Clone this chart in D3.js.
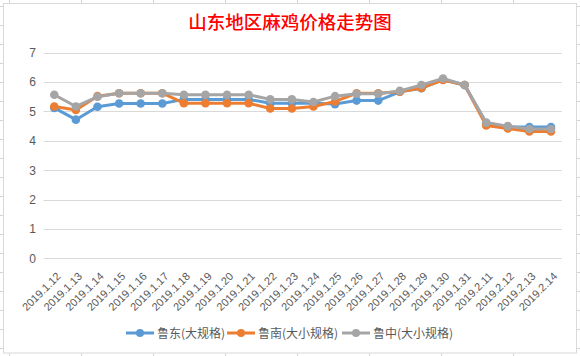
<!DOCTYPE html>
<html><head><meta charset="utf-8">
<script src="https://cdn.jsdelivr.net/npm/d3@7"></script>
<style>
html,body{margin:0;padding:0;background:#fff;}
svg{display:block;}
</style>
</head><body>
<svg id="chart" width="580" height="356"></svg>
<script>
const title = "山东地区麻鸡价格走势图";
const categories = ["2019.1.12","2019.1.13","2019.1.14","2019.1.15","2019.1.16","2019.1.17","2019.1.18","2019.1.19","2019.1.20","2019.1.21","2019.1.22","2019.1.23","2019.1.24","2019.1.25","2019.1.26","2019.1.27","2019.1.28","2019.1.29","2019.1.30","2019.1.31","2019.2.11","2019.2.12","2019.2.13","2019.2.14"];
const seriesNames = ["鲁东(大规格)","鲁南(大小规格)","鲁中(大小规格)"];
const ludong = [5.12,4.72,5.16,5.27,5.27,5.27,5.41,5.41,5.41,5.41,5.28,5.28,5.28,5.25,5.37,5.37,5.67,5.79,6.08,5.9,4.6,4.48,4.47,4.47];
const lunan  = [5.17,5.05,5.52,5.62,5.62,5.62,5.28,5.28,5.28,5.28,5.1,5.1,5.17,5.34,5.62,5.62,5.67,5.8,6.07,5.9,4.52,4.42,4.32,4.32];
const luzhong= [5.57,5.17,5.5,5.62,5.62,5.62,5.57,5.57,5.57,5.57,5.41,5.41,5.32,5.52,5.6,5.6,5.7,5.9,6.12,5.9,4.62,4.5,4.4,4.4];
const yTicks = [0,1,2,3,4,5,6,7];
const colors = ["#5B9BD5","#ED7D31","#A5A5A5"];
const seriesValues = [ludong, lunan, luzhong];

const svg = d3.select("#chart");
const W = 580, H = 356;

// spreadsheet background grid (decoration)
const bg = svg.append("g");
for (let x = 9.5; x < W; x += 72) bg.append("line").attr("x1",x).attr("x2",x).attr("y1",0).attr("y2",H).attr("stroke","#d4d4d4");
for (let y = 6.5; y < H; y += 19) bg.append("line").attr("x1",0).attr("x2",W).attr("y1",y).attr("y2",y).attr("stroke","#d4d4d4");
// chart frame
svg.append("rect").attr("x",3.5).attr("y",3.5).attr("width",573).attr("height",349.5)
  .attr("fill","#fff").attr("stroke","#d9d9d9");

const x = d3.scaleBand().domain(categories).range([43.5, 561.8]).padding(0);
const y = d3.scaleLinear().domain([0,7]).range([258.3, 52.7]);
const cx = d => x(d) + x.bandwidth()/2;

// gridlines
svg.append("g").selectAll("line").data(yTicks).join("line")
  .attr("x1",43.5).attr("x2",561.8)
  .attr("y1",d=>Math.round(y(d))+0.5).attr("y2",d=>Math.round(y(d))+0.5)
  .attr("stroke","#d9d9d9").attr("stroke-width",1);

// y axis labels
const yAxis = d3.axisLeft(y).tickValues(yTicks).tickFormat(d3.format("d")).tickSize(0).tickPadding(0);
const gy = svg.append("g").attr("transform","translate(36,0)").call(yAxis);
gy.select(".domain").remove();
gy.selectAll("text").attr("fill","#595959").style("font-family","'Liberation Sans',Arial,sans-serif").style("font-size","12px");

// x axis labels
const xAxis = d3.axisBottom(x).tickSize(0).tickPadding(0);
const gx = svg.append("g").call(xAxis);
gx.select(".domain").remove();
gx.selectAll(".tick").attr("transform", d => `translate(${cx(d)+7},277)`);
gx.selectAll("text").attr("fill","#595959").attr("x",0).attr("y",0).attr("dy","0")
  .attr("text-anchor","end").attr("transform","rotate(-45)")
  .style("font-family","'Liberation Sans',Arial,sans-serif").style("font-size","11px");

// lines
const line = d3.line().x((d,i)=>cx(categories[i])).y(d=>y(d));
seriesValues.forEach((vals, si) => {
  const g = svg.append("g");
  g.append("path").datum(vals).attr("d", line).attr("fill","none")
    .attr("stroke", colors[si]).attr("stroke-width",3).attr("stroke-linejoin","round").attr("stroke-linecap","round");
  g.selectAll("circle").data(vals).join("circle")
    .attr("cx",(d,i)=>cx(categories[i])).attr("cy",d=>y(d)).attr("r",4.3).attr("fill",colors[si]);
});

// title
svg.append("text").attr("x",290).attr("y",29).attr("text-anchor","middle")
  .attr("fill","#FF0000").style("font-family","'Noto Sans CJK SC',sans-serif")
  .style("font-size","18.5px").style("font-weight","500").text(title);

// legend
const legendX = [126, 227, 342];
const lg = svg.append("g");
seriesNames.forEach((n,i)=>{
  const g = lg.append("g").attr("transform",`translate(${legendX[i]},333)`);
  g.append("line").attr("x1",0).attr("x2",28).attr("y1",0).attr("y2",0).attr("stroke",colors[i]).attr("stroke-width",3);
  g.append("circle").attr("cx",14).attr("cy",0).attr("r",4).attr("fill",colors[i]);
  g.append("text").attr("x",31).attr("y",4.5).attr("fill","#595959")
    .style("font-family","'Noto Sans CJK SC',sans-serif").style("font-size","12px").text(n);
});
</script>
</body></html>
